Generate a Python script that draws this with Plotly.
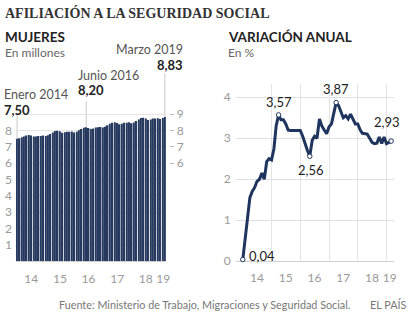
import plotly.graph_objects as go
import pandas as pd

W, H = 414, 323

months = pd.date_range("2014-01-01", "2019-03-01", freq="MS")

# Afiliadas (millones), enero 2014 - marzo 2019
mujeres = [
    7.50, 7.53, 7.58, 7.63, 7.70, 7.72, 7.70, 7.63, 7.64, 7.66, 7.66, 7.69,
    7.66, 7.71, 7.79, 7.88, 7.97, 7.99, 7.95, 7.87, 7.89, 7.92, 7.92, 7.94,
    7.88, 7.93, 8.01, 8.09, 8.17, 8.20, 8.16, 8.09, 8.12, 8.19, 8.20, 8.22,
    8.18, 8.23, 8.32, 8.41, 8.48, 8.50, 8.46, 8.39, 8.42, 8.47, 8.48, 8.50,
    8.45, 8.49, 8.58, 8.68, 8.76, 8.78, 8.74, 8.65, 8.68, 8.74, 8.74, 8.75,
    8.70, 8.76, 8.83,
]

# Variación anual (%)
variacion = [
    0.04, 0.55, 1.00, 1.55, 1.70, 1.80, 1.95, 2.00, 2.15, 2.00, 2.43, 2.50,
    2.47, 2.75, 3.30, 3.57, 3.45, 3.45, 3.35, 3.20, 3.19, 3.19, 3.20, 3.19,
    3.19, 3.05, 2.85, 2.70, 2.56, 2.95, 3.05, 3.00, 3.47, 3.30, 3.20, 3.11,
    3.28, 3.35, 3.60, 3.87, 3.80, 3.65, 3.50, 3.55, 3.47, 3.59, 3.47, 3.35,
    3.35, 3.20, 3.12, 3.11, 3.10, 3.00, 2.90, 2.87, 2.88, 3.03, 2.87, 3.03,
    2.87, 2.90, 2.93,
]

year_ticks = ["2014-07-01", "2015-07-01", "2016-07-01", "2017-07-01", "2018-07-01", "2019-02-10"]
year_labels = ["14", "15", "16", "17", "18", "19"]
year_starts = ["2015-01-01", "2016-01-01", "2017-01-01", "2018-01-01", "2019-01-01"]

left_hl = [0, 29, 62]        # Enero 2014, Junio 2016, Marzo 2019
left_hl_names = ["Enero 2014", "Junio 2016", "Marzo 2019"]
right_hl = [0, 15, 28, 39, 62]

NAVY = "#1f355e"
GRAY = "#9a9a9a"
FONT = "Lato"

def px(x):
    return x / W

def py(y):
    return (H - y) / H

def fmt(v):
    return f"{v:.2f}".replace(".", ",")

fig = go.Figure()

fig.add_trace(go.Bar(
    x=months, y=mujeres, marker=dict(color="#27395f", line=dict(width=0)),
    xaxis="x", yaxis="y", showlegend=False, hoverinfo="skip",
))

fig.add_trace(go.Scatter(
    x=months, y=variacion, mode="lines", line=dict(color=NAVY, width=3),
    xaxis="x2", yaxis="y3", showlegend=False, hoverinfo="skip", cliponaxis=False,
))
fig.add_trace(go.Scatter(
    x=[months[i] for i in right_hl], y=[variacion[i] for i in right_hl], mode="markers",
    marker=dict(color="white", size=4.5, line=dict(color=NAVY, width=1)),
    xaxis="x2", yaxis="y3", showlegend=False, hoverinfo="skip", cliponaxis=False,
))

# left chart scale: 0 at px 267, 16.7 px per unit
left_top = 40
left_range = (267 - left_top) / 16.7
right_top = 86
right_range = (267 - right_top) / 41.9

annotations = []
shapes = []

lab_pos = [
    dict(x=2, anchor="left", y1=97, y2=112, ytop=117),
    dict(x=77, anchor="left", y1=77, y2=92, ytop=104),
    dict(x=187, anchor="right", y1=51, y2=66, ytop=75),
]
for i, name, p in zip(left_hl, left_hl_names, lab_pos):
    annotations.append(dict(text=name, x=px(p["x"]), y=py(p["y1"]), xref="paper", yref="paper",
                            xanchor=p["anchor"], yanchor="middle", showarrow=False,
                            font=dict(family=FONT, size=12.5, color="#555")))
    annotations.append(dict(text="<b>" + fmt(mujeres[i]) + "</b>", x=px(p["x"]), y=py(p["y2"]),
                            xref="paper", yref="paper", xanchor=p["anchor"], yanchor="middle",
                            showarrow=False, font=dict(family=FONT, size=13, color="#222")))
    shapes.append(dict(type="line", xref="x", yref="y", x0=months[i], x1=months[i],
                       y0=mujeres[i], y1=(267 - p["ytop"]) / 16.7,
                       line=dict(color="#c8c8c8", width=1), layer="below"))

r_opts = {
    0: dict(xanchor="left", yanchor="middle", xshift=4, yshift=4),
    15: dict(xanchor="center", yanchor="bottom", xshift=0, yshift=3),
    28: dict(xanchor="center", yanchor="top", xshift=1, yshift=-4),
    39: dict(xanchor="center", yanchor="bottom", xshift=0, yshift=4),
    62: dict(xanchor="center", yanchor="bottom", xshift=-4, yshift=9),
}
for i in right_hl:
    o = r_opts[i]
    annotations.append(dict(text=fmt(variacion[i]), x=months[i], y=variacion[i], xref="x2", yref="y3",
                            showarrow=False, font=dict(family=FONT, size=13, color="#222"), **o))

annotations += [
    dict(text="<b>AFILIACIÓN A LA SEGURIDAD SOCIAL</b>", x=px(3), y=py(13), xref="paper", yref="paper",
         xanchor="left", yanchor="middle", showarrow=False,
         font=dict(family="Liberation Serif", size=14, color="#333")),
    dict(text="<b>MUJERES</b>", x=px(3), y=py(38), xref="paper", yref="paper",
         xanchor="left", yanchor="middle", showarrow=False, font=dict(family=FONT, size=13.5, color="#222")),
    dict(text="En millones", x=px(3), y=py(54), xref="paper", yref="paper",
         xanchor="left", yanchor="middle", showarrow=False, font=dict(family=FONT, size=12, color="#666")),
    dict(text="<b>VARIACIÓN ANUAL</b>", x=px(228), y=py(38), xref="paper", yref="paper",
         xanchor="left", yanchor="middle", showarrow=False, font=dict(family=FONT, size=13.5, color="#222")),
    dict(text="En %", x=px(228), y=py(54), xref="paper", yref="paper",
         xanchor="left", yanchor="middle", showarrow=False, font=dict(family=FONT, size=12, color="#666")),
    dict(text="Fuente: Ministerio de Trabajo, Migraciones y Seguridad Social.", x=px(58), y=py(311),
         xref="paper", yref="paper", xanchor="left", yanchor="middle", showarrow=False,
         font=dict(family=FONT, size=10.8, color="#777")),
    dict(text="EL PAÍS", x=px(412), y=py(311), xref="paper", yref="paper", xanchor="right",
         yanchor="middle", showarrow=False, font=dict(family=FONT, size=10.8, color="#777")),
]

tickfont = dict(family=FONT, size=12, color=GRAY)

fig.update_layout(
    width=W, height=H, margin=dict(l=0, r=0, t=0, b=0),
    paper_bgcolor="white", plot_bgcolor="rgba(0,0,0,0)",
    bargap=0.3, showlegend=False,
    annotations=annotations, shapes=shapes,
    xaxis=dict(domain=[px(16), px(168)], range=["2013-12-16", "2019-03-21"], anchor="y",
               tickmode="array", tickvals=year_ticks, ticktext=year_labels, showgrid=False,
               ticks="", tickfont=tickfont, showline=True, linecolor="#cfcfcf", linewidth=1,
               zeroline=False, ticklabelstandoff=6),
    yaxis=dict(domain=[py(267), py(left_top)], range=[0, left_range], anchor="x",
               tickmode="array", tickvals=[1, 2, 3, 4, 5, 6, 7, 8], showgrid=True,
               gridcolor="#e4e4e4", gridwidth=1, zeroline=False, ticks="", tickfont=tickfont,
               ticklabelstandoff=3),
    yaxis2=dict(overlaying="y", side="right", anchor="free", position=px(171), range=[0, left_range],
                tickmode="array", tickvals=[6, 7, 8, 9], showgrid=True, gridcolor="#e4e4e4",
                ticks="outside", ticklen=4, tickcolor="#bbb", tickfont=tickfont, zeroline=False,
                showline=False),
    xaxis2=dict(domain=[px(238), px(398)], range=["2013-10-03", "2019-04-08"], anchor="y3",
                tickmode="array", tickvals=year_ticks, ticktext=year_labels, showgrid=False,
                ticks="", tickfont=tickfont, showline=False, zeroline=False, ticklabelstandoff=8,
                minor=dict(tickmode="array", tickvals=year_starts, showgrid=True,
                           gridcolor="#e4e4e4", gridwidth=1, ticks="")),
    yaxis3=dict(domain=[py(267), py(right_top)], range=[0, right_range], anchor="x2",
                tickmode="array", tickvals=[0, 1, 2, 3, 4], showgrid=True, gridcolor="#e0e0e0",
                zeroline=True, zerolinecolor="#cfcfcf", zerolinewidth=1, ticks="",
                tickfont=tickfont, ticklabelstandoff=4),
)

fig.add_trace(go.Scatter(x=[months[0]], y=[None], xaxis="x", yaxis="y2", showlegend=False,
                         hoverinfo="skip"))

fig.write_html("out.html")
